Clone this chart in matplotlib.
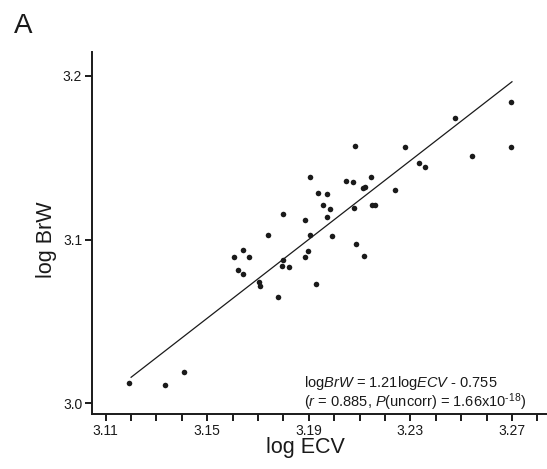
import numpy as np
import matplotlib
matplotlib.use("Agg")
import matplotlib.pyplot as plt
from matplotlib.ticker import FixedLocator

plt.rcParams['font.family'] = ['Liberation Sans', 'DejaVu Sans']
plt.rcParams['mathtext.fontset'] = 'custom'
plt.rcParams['mathtext.rm'] = 'Liberation Sans'
plt.rcParams['mathtext.it'] = 'Liberation Sans:italic'
plt.rcParams['mathtext.default'] = 'regular'

# log ECV / log BrW
log_ecv = [3.1193, 3.1334, 3.1409, 3.1604, 3.1642, 3.1666, 3.1620, 3.1640,
           3.1741, 3.1705, 3.1708, 3.1778, 3.1798, 3.1799, 3.1794, 3.1820,
           3.1883, 3.1905, 3.1896, 3.1884, 3.1929, 3.1905, 3.1938, 3.1973,
           3.1954, 3.1984, 3.1971, 3.1993, 3.2046, 3.2075, 3.2082, 3.2113,
           3.2123, 3.2077, 3.2086, 3.2117, 3.2144, 3.2148, 3.2159, 3.2240,
           3.2277, 3.2334, 3.2358, 3.2477, 3.2541, 3.2697, 3.2696]
log_brw = [3.0126, 3.0114, 3.0191, 3.0895, 3.0938, 3.0893, 3.0814, 3.0791,
           3.1026, 3.0739, 3.0716, 3.0649, 3.1158, 3.0873, 3.0840, 3.0830,
           3.1117, 3.1027, 3.0930, 3.0891, 3.0728, 3.1383, 3.1286, 3.1276,
           3.1211, 3.1188, 3.1136, 3.1023, 3.1359, 3.1353, 3.1569, 3.1316,
           3.1321, 3.1194, 3.0973, 3.0897, 3.1383, 3.1212, 3.1212, 3.1302,
           3.1563, 3.1469, 3.1444, 3.1740, 3.1508, 3.1839, 3.1565]

# fitted line as drawn
fit_slope = 1.2027
fit_intercept = -0.7365
fit_range = [3.12, 3.27]

x_major = [3.11, 3.15, 3.19, 3.23, 3.27]
y_major = [3.0, 3.1, 3.2]

fig = plt.figure(figsize=(5.47, 4.69), dpi=100)
ax = fig.add_axes([92/547, 55/469, 1 - 92/547, 362/469])

ax.scatter(log_ecv, log_brw, s=16, color='#1a1a1a', linewidths=0, zorder=3)
fx = np.array(fit_range)
ax.plot(fx, fit_slope*fx + fit_intercept, color='#1a1a1a', lw=0.9)

ax.set_xlim(3.1046, 3.2838)
ax.set_ylim(2.9935, 3.2145)

ax.xaxis.set_major_locator(FixedLocator(x_major))
ax.xaxis.set_minor_locator(FixedLocator(np.round(np.arange(3.11, 3.2801, 0.01), 2)))
ax.yaxis.set_major_locator(FixedLocator(y_major))
ax.set_xticklabels(['%.2f' % v for v in x_major])
ax.set_yticklabels(['%.1f' % v for v in y_major])

for s in ['top', 'right']:
    ax.spines[s].set_visible(False)
for s in ['left', 'bottom']:
    ax.spines[s].set_linewidth(1.4)
    ax.spines[s].set_color('#1a1a1a')
ax.tick_params(which='both', direction='out', length=5, width=1.4,
               color='#1a1a1a', labelsize=10, pad=2, labelcolor='#1a1a1a')

ax.set_xlabel('log ECV', fontsize=15.5, color='#1a1a1a')
ax.set_ylabel('log BrW', fontsize=15.5, color='#1a1a1a')
ax.xaxis.set_label_coords(0.468, -0.064)
ax.yaxis.set_label_coords(-0.078, 0.48)

fit_text = (r'log$\mathit{BrW}$ = 1.21log$\mathit{ECV}$ - 0.755' + '\n' +
            r'($\mathit{r}$ = 0.885, $\mathit{P}$(uncorr) = 1.66x10$^{\text{-18}}$)')
ax.text(0.466, 0.004, fit_text, transform=ax.transAxes, fontsize=10.5,
        va='bottom', ha='left', linespacing=0.92, color='#1a1a1a')

fig.text(14/547, 1 - 32.7/469, 'A', fontsize=20, va='baseline', color='#1a1a1a')

fig.savefig('out.png', dpi=100)
